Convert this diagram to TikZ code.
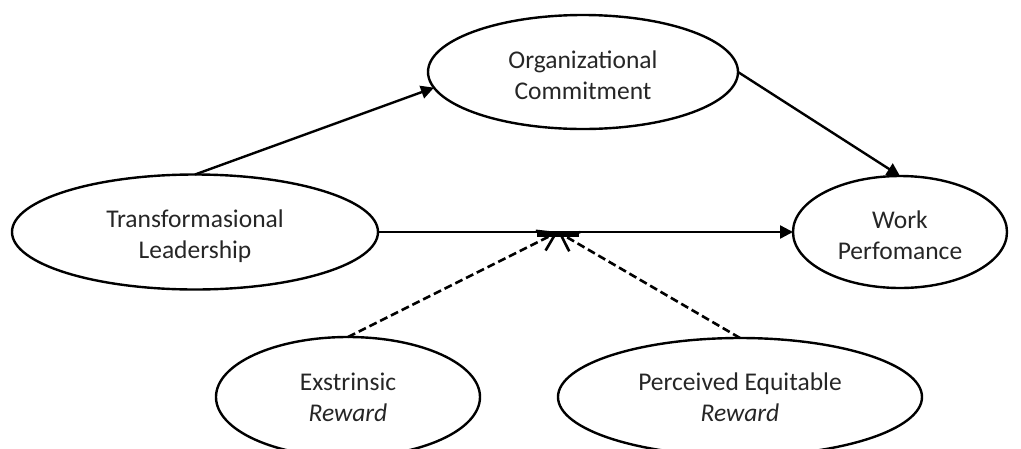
\documentclass[tikz,border=0pt]{standalone}
\usepackage{fontspec}
\setmainfont{Carlito}
\usetikzlibrary{arrows.meta,shapes.geometric}
\begin{document}
\begin{tikzpicture}[x=1pt,y=-1pt,
  var/.style={ellipse,draw,line width=2.4pt,inner sep=0pt,outer sep=0pt},
  txt/.style={align=center,inner sep=0pt,font=\fontsize{25.5}{31}\selectfont,text=black!85},
  link/.style={line width=2.4pt,-{Triangle[length=13pt,width=13pt]}},
  mod/.style={line width=2.6pt,dash pattern=on 8pt off 4pt,-{Straight Barb[length=17pt,width=22pt]}},
  barbox/.style={rectangle,fill=black,inner sep=0pt,outer sep=0pt,minimum width=42pt,minimum height=4pt}]
\useasboundingbox (0,0) rectangle (1021,448);
\clip (0,0) rectangle (1021,448);
\node[var,minimum width=366pt,minimum height=115pt,
  label={[txt,yshift=-4pt]center:{Transformasional\\Leadership}}] (tl) at (195,232) {};
\node[var,minimum width=310pt,minimum height=114pt,
  label={[txt,yshift=-3pt]center:{Organizational\\Commitment}}] (oc) at (583,72) {};
\node[var,minimum width=214pt,minimum height=112pt,
  label={[txt,yshift=-3pt]center:{Work\\Perfomance}}] (wp) at (900,232) {};
\node[var,minimum width=264pt,minimum height=120pt,
  label={[txt]center:{Exstrinsic\\\textit{Reward}}}] (er) at (348,397) {};
\node[var,minimum width=364pt,minimum height=118pt,
  label={[txt]center:{Perceived Equitable\\\textit{Reward}}}] (pe) at (740,397) {};
\node[barbox] (bar) at (558,234.5) {};
\coordinate (j) at (558,232);
\draw[link] (tl.north) -- (oc.186);
\draw[link] (oc.east) -- (wp.north);
\draw[link] (tl.east) -- (wp.west);
\draw[mod] (er.north) -- (j);
\draw[mod] (pe.north) -- (j);
\end{tikzpicture}
\end{document}
